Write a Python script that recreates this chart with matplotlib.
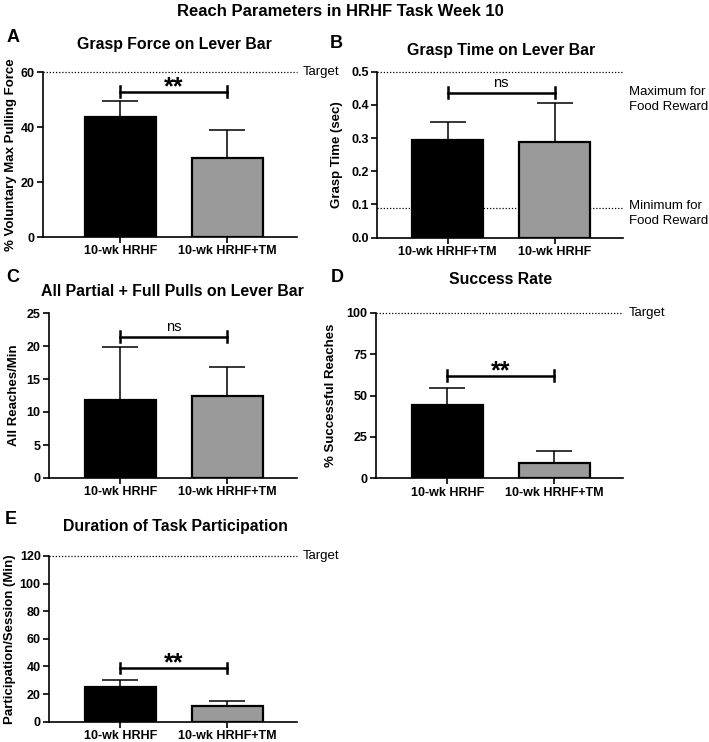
import matplotlib
matplotlib.use('Agg')
from matplotlib import pyplot as plt
import matplotlib.transforms as mtransforms

plt.rcParams['font.family'] = ['Liberation Sans', 'DejaVu Sans']
plt.rcParams['font.weight'] = 'bold'

W, H = 709, 742

# data (mean, upper error)
labels_a = ['10-wk HRHF', '10-wk HRHF+TM']
mean_a = [43.5, 28.7]
err_a = [6.0, 10.1]

labels_b = ['10-wk HRHF+TM', '10-wk HRHF']
mean_b = [0.295, 0.287]
err_b = [0.053, 0.118]

labels_c = ['10-wk HRHF', '10-wk HRHF+TM']
mean_c = [11.8, 12.4]
err_c = [8.1, 4.4]

labels_d = ['10-wk HRHF', '10-wk HRHF+TM']
mean_d = [44.5, 9.0]
err_d = [10.3, 7.5]

labels_e = ['10-wk HRHF', '10-wk HRHF+TM']
mean_e = [24.8, 11.5]
err_e = [5.7, 3.5]

colors = ['black', '#9a9a9a']

fig = plt.figure(figsize=(W / 100, H / 100), dpi=100)


def make_ax(l, r, t, b):
    return fig.add_axes([l / W, 1 - b / H, (r - l) / W, (b - t) / H])


def panel(ax, labels, means, errs, ylim, yticks, ticklabels, sig, sig_y, ylabel,
          ylabel_x, left_px, width_px, xleft):
    x = [0, 1]
    ax.bar(x, means, width=0.655, color=colors, edgecolor='black', linewidth=1.6, zorder=3)
    ax.errorbar(x, means, yerr=[[0, 0], errs], fmt='none', ecolor='black',
                elinewidth=1.1, capsize=13, capthick=1.1, zorder=2)
    ax.set_xlim(-xleft, -xleft + width_px / 107)
    ax.set_ylim(*ylim)
    ax.set_yticks(yticks)
    ax.set_yticklabels(ticklabels, fontsize=9, fontweight='bold')
    ax.set_xticks(x)
    ax.set_xticklabels(labels, fontsize=9, fontweight='bold')
    for s in ['top', 'right']:
        ax.spines[s].set_visible(False)
    for s in ['left', 'bottom']:
        ax.spines[s].set_linewidth(1.2)
    ax.tick_params(width=1.2, length=4, pad=2)
    ax.set_ylabel(ylabel, fontsize=9.5, fontweight='bold')
    ax.yaxis.set_label_coords((ylabel_x - left_px) / width_px, 0.5)
    # significance bracket
    tick = (ylim[1] - ylim[0]) * 0.033
    ax.plot([0, 1], [sig_y, sig_y], color='black', lw=1.8, clip_on=False, zorder=4)
    for xi in x:
        ax.plot([xi, xi], [sig_y - tick, sig_y + tick], color='black', lw=1.8,
                clip_on=False, zorder=4)
    if sig == 'ns':
        ax.annotate('ns', xy=(0.5, sig_y), xytext=(0, 4), textcoords='offset points',
                    ha='center', va='baseline', fontsize=10.5, fontweight='normal')
    else:
        ax.annotate(sig, xy=(0.5, sig_y), xytext=(0, -1.5), textcoords='offset points',
                    ha='center', va='baseline', fontsize=18, fontweight='bold')


def ref_line(ax, y, text=None):
    ax.axhline(y, color='black', lw=0.9, ls=(0, (1, 1.5)), clip_on=False, zorder=1)
    if text:
        side_text(ax, y, text)


def side_text(ax, y, text):
    trans = mtransforms.blended_transform_factory(ax.transAxes, ax.transData)
    ax.annotate(text, xy=(1, y), xycoords=trans, xytext=(4, 0),
                textcoords='offset points', ha='left', va='center',
                fontsize=9.5, fontweight='normal', linespacing=1.35)


# A
axA = make_ax(43, 297, 72, 237)
panel(axA, labels_a, mean_a, err_a, (0, 60), [0, 20, 40, 60], ['0', '20', '40', '60'],
      '**', 52.8, '% Voluntary Max Pulling Force', 17, 43, 254, 0.724)
ref_line(axA, 60, 'Target')

# B
axB = make_ax(377, 623, 71.7, 237.7)
yb = [0.0, 0.1, 0.2, 0.3, 0.4, 0.5]
panel(axB, labels_b, mean_b, err_b, (0, 0.5), yb, ['%.1f' % v for v in yb],
      'ns', 0.437, 'Grasp Time (sec)', 343, 377, 246, 0.659)
ref_line(axB, 0.5)
ref_line(axB, 0.09)
side_text(axB, 0.415, 'Maximum for\nFood Reward')
side_text(axB, 0.074, 'Minimum for\nFood Reward')

# C
axC = make_ax(49, 297, 313, 478)
panel(axC, labels_c, mean_c, err_c, (0, 25), [0, 5, 10, 15, 20, 25],
      ['0', '5', '10', '15', '20', '25'], 'ns', 21.4, 'All Reaches/Min', 20, 49, 248, 0.668)

# D
axD = make_ax(376, 623, 312.7, 478.3)
panel(axD, labels_d, mean_d, err_d, (0, 100), [0, 25, 50, 75, 100],
      ['0', '25', '50', '75', '100'], '**', 61.8, '% Successful Reaches', 337, 376, 247, 0.668)
ref_line(axD, 100, 'Target')

# E
axE = make_ax(49, 297, 556, 721.7)
panel(axE, labels_e, mean_e, err_e, (0, 120), [0, 20, 40, 60, 80, 100, 120],
      ['0', '20', '40', '60', '80', '100', '120'], '**', 38.9,
      'Participation/Session (Min)', 16, 49, 248, 0.668)
ref_line(axE, 120, 'Target')

# titles
fig.text(340 / W, 1 - 12 / H, 'Reach Parameters in HRHF Task Week 10', ha='center',
         va='center', fontsize=12, fontweight='bold')
titles = [(174, 45, 'Grasp Force on Lever Bar'), (501, 51, 'Grasp Time on Lever Bar'),
          (172, 292, 'All Partial + Full Pulls on Lever Bar'), (501, 279, 'Success Rate'),
          (175, 526, 'Duration of Task Participation')]
for tx, ty, t in titles:
    fig.text(tx / W, 1 - ty / H, t, ha='center', va='center', fontsize=11.4, fontweight='bold')
letters = [(13, 37, 'A'), (336, 43, 'B'), (13, 277, 'C'), (337, 277, 'D'), (11, 519, 'E')]
for lx, ly, t in letters:
    fig.text(lx / W, 1 - ly / H, t, ha='center', va='center', fontsize=13, fontweight='bold')

fig.savefig('out.png', dpi=100)
